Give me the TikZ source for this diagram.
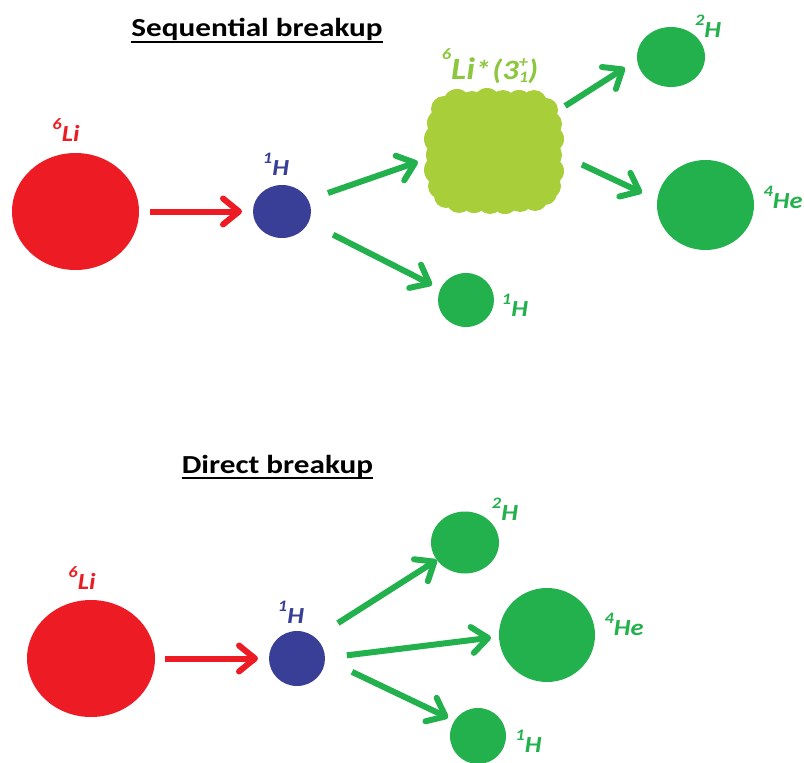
\documentclass[tikz,border=0pt]{standalone}
\usepackage{graphicx}
\usepackage{fontspec}
\setmainfont{Carlito}
\usetikzlibrary{arrows.meta,shapes.geometric}
\definecolor{cred}{HTML}{ED1C24}
\definecolor{cblue}{HTML}{393E97}
\definecolor{cgreen}{HTML}{22B14C}
\definecolor{ccloud}{HTML}{A8CF3A}
\definecolor{clab}{HTML}{8DC63F}
\newcommand{\iso}[2]{\scalebox{1.15}[1]{\raisebox{0.52em}{\fontsize{16}{16}\selectfont #1}#2}}
\begin{document}
\begin{tikzpicture}[x=1pt,y=-1pt,
  ball/.style={ellipse, inner sep=0pt, outer sep=0pt},
  lab/.style={inner sep=0pt, font=\fontsize{23}{23}\selectfont\bfseries\itshape},
  ttl/.style={inner sep=0pt, anchor=base, font=\fontsize{26}{26}\selectfont\bfseries},
  uline/.style={line width=1.8pt},
  tip/.style={-{Straight Barb[length=16pt,width=26pt,round]}},
  rarr/.style={draw=cred, line width=6pt, tip},
  garr/.style={draw=cgreen, line width=6pt, tip}
]
\useasboundingbox (0,0) rectangle (804,763);

% ---------- Sequential breakup ----------
\node[ttl] (t1) at (257,36.7) {\scalebox{1.2}[1]{Sequential breakup}};
\draw[uline] ([yshift=-5.3pt]t1.base west) -- ([yshift=-5.3pt]t1.base east);

\node[ball, fill=cred, minimum width=127pt, minimum height=117pt] (li1) at (75.5,211.5) {};
\node[lab, text=cred] (li1l) at (66,130.5) {\iso{6}{Li}};
\node[ball, fill=cblue, minimum width=58pt, minimum height=53pt] (h1) at (282,211.5) {};
\node[lab, text=cblue] (h1l) at (276,164) {\iso{1}{H}};

% cloud (excited 6Li*)
\node[ball, minimum width=138pt, minimum height=124pt] (cl) at (494,152) {};
\fill[ccloud, rounded corners=12pt] (437,102) rectangle (551,201);
\foreach \x/\y/\r in {
   444/109/13, 457/103/14, 472/104/13, 487/102/14, 503/103/13, 519/104/14, 534/103/13, 546/110/12,
   441/123/14, 439/139/15, 440/155/14, 439/170/15, 441/186/13,
   549/124/13, 550/139/14, 549/155/13, 550/171/14, 548/186/13,
   446/196/12, 459/200/13, 474/199/14, 490/201/13, 505/200/14, 520/199/13, 535/198/13, 545/193/12}
  \fill[ccloud] (\x,\y) circle[radius=\r pt];
\node[inner sep=0pt, text=clab, font=\bfseries\itshape] (cll) at (490,66.5)
  {\scalebox{1.15}[1]{\raisebox{20pt}{\fontsize{16}{16}\selectfont 6}{\fontsize{31}{31}\selectfont Li}{\fontsize{27}{27}\selectfont *}\,{\fontsize{28}{28}\selectfont (3\rlap{\raisebox{12pt}{\fontsize{16}{16}\selectfont +}}\raisebox{-3pt}{\fontsize{16}{16}\selectfont 1})}}};

\node[ball, fill=cgreen, minimum width=68pt, minimum height=60pt] (d1) at (671,57) {};
\node[lab, text=cgreen] (d1l) at (708,26) {\iso{2}{H}};
\node[ball, fill=cgreen, minimum width=97pt, minimum height=90pt] (a1) at (705.5,205) {};
\node[lab, text=cgreen] (a1l) at (783,197) {\iso{4}{He}};
\node[ball, fill=cgreen, minimum width=56pt, minimum height=54pt] (p1) at (466,300) {};
\node[lab, text=cgreen] (p1l) at (515,305) {\iso{1}{H}};

\draw[rarr, shorten <=11pt, shorten >=11pt] (li1.east) -- (h1.west);
\draw[garr, shorten <=21pt, shorten >=8pt] (h1.24) -- (cl.186.2);
\draw[garr, shorten <=27.6pt, shorten >=9.3pt] (h1.-22.7) -- (p1.157.2);
\draw[garr, shorten <=18pt, shorten >=14.5pt] (cl.33.1) -- (d1.185.6);
\draw[garr, shorten <=21pt, shorten >=16.8pt] (cl.-3.4) -- (a1.174.2);

% ---------- Direct breakup ----------
\node[ttl] (t2) at (277.5,473) {\scalebox{1.2}[1]{Direct breakup}};
\draw[uline] ([yshift=-5.3pt]t2.base west) -- ([yshift=-5.3pt]t2.base east);

\node[ball, fill=cred, minimum width=128pt, minimum height=117pt] (li2) at (91,658.5) {};
\node[lab, text=cred] (li2l) at (82,578.5) {\iso{6}{Li}};
\node[ball, fill=cblue, minimum width=56pt, minimum height=55pt] (h2) at (297,658.5) {};
\node[lab, text=cblue] (h2l) at (291,612.5) {\iso{1}{H}};

\node[ball, fill=cgreen, minimum width=68pt, minimum height=62pt] (d2) at (465,542.5) {};
\node[lab, text=cgreen] (d2l) at (505,509) {\iso{2}{H}};
\node[ball, fill=cgreen, minimum width=96pt, minimum height=94pt] (a2) at (547,635) {};
\node[lab, text=cgreen] (a2l) at (624,624.5) {\iso{4}{He}};
\node[ball, fill=cgreen, minimum width=56pt, minimum height=56pt] (p2) at (478,736) {};
\node[lab, text=cgreen] (p2l) at (528.5,741.5) {\iso{1}{H}};

\draw[rarr, shorten <=10pt, shorten >=11pt] (li2.east) -- (h2.west);
\draw[garr, shorten <=27pt, shorten >=0pt] (h2.49.1) -- (d2.212);
\draw[garr, shorten <=22pt, shorten >=8pt] (h2.1.8) -- (a2.182.5);
\draw[garr, shorten <=29.9pt, shorten >=7pt] (h2.-1.2) -- (p2.147.6);
\end{tikzpicture}
\end{document}
